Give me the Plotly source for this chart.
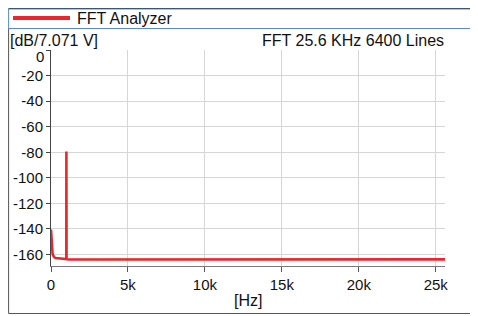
import plotly.graph_objects as go

# ---- data ----
freq_hz = [0, 20, 40, 60, 80, 100, 130, 170, 220, 300, 400, 550, 700, 850, 990,
           996, 1000, 1004, 1010, 1200, 1500, 2000, 2500, 3000, 3500, 4000, 4500,
           5000, 5500, 6000, 6500, 7000, 7500, 8000, 8500, 9000, 9500, 10000,
           10500, 11000, 11500, 12000, 12500, 13000, 13500, 14000, 14500, 15000,
           15500, 16000, 16500, 17000, 17500, 18000, 18500, 19000, 19500, 20000,
           20500, 21000, 21500, 22000, 22500, 23000, 23500, 24000, 24500, 25000,
           25600]
level_db = [-140.5, -146.0, -151.0, -155.0, -157.5, -159.0, -160.5, -161.5, -162.2,
            -162.8, -163.0, -163.2, -163.4, -163.5, -163.6,
            -163.6, -79.5, -163.8, -163.8, -163.9, -163.9, -164.0, -163.9, -164.0,
            -163.9, -164.0, -163.9, -164.0, -163.9, -164.0, -164.0, -163.9, -164.0,
            -163.9, -164.0, -163.9, -164.0, -163.9, -164.0, -163.8, -164.0, -163.7,
            -164.0, -163.8, -164.0, -163.7, -164.0, -163.6, -163.9, -163.7, -164.0,
            -163.6, -163.9, -163.7, -164.0, -163.6, -163.9, -163.7, -163.9, -163.6,
            -164.0, -163.7, -163.9, -163.6, -163.9, -163.7, -163.9, -163.7, -163.8]

x_tick_vals = [0, 5000, 10000, 15000, 20000, 25000]
x_tick_text = ["0", "5k", "10k", "15k", "20k", "25k"]
y_tick_vals = [0, -20, -40, -60, -80, -100, -120, -140, -160]
y_tick_text = ["0", "-20", "-40", "-60", "-80", "-100", "-120", "-140", "-160"]

series_name = "FFT Analyzer"
y_unit = "[dB/7.071 V]"
x_unit = "[Hz]"
info_text = "FFT 25.6 KHz 6400 Lines"

RED = "#e8272e"
FONT = "Liberation Sans, Arial, sans-serif"

# page body adds an 8 px offset; figure is laid out in window pixels minus it
OFF = 8
W, H = 470, 308
# plot area in window pixels: x 51..445, y 50..266
ML, MT = 51 - OFF, 50 - OFF
MR = W - (445 - OFF)
MB = H - (266 - OFF)
PW, PH = W - ML - MR, H - MT - MB


def px(xw):
    return (xw - OFF - ML) / PW


def py(yw):
    return (H - MB - (yw - OFF)) / PH


fig = go.Figure()
fig.add_trace(go.Scatter(x=freq_hz, y=level_db, mode="lines", name=series_name,
                         line=dict(color=RED, width=2.6), showlegend=False))

FL = 8.6   # frame left (window px), first visible column
FT = 8.7   # frame top
shapes = [
    # legend box
    dict(type="rect", xref="paper", yref="paper", x0=px(FL), x1=px(490), y0=py(28.5), y1=py(FT),
         line=dict(color="#5a8cc4", width=1), layer="above"),
    dict(type="line", xref="paper", yref="paper", x0=px(FL), x1=px(490), y0=py(FT), y1=py(FT),
         line=dict(color="#3f5670", width=1.3)),
    # outer frame left & bottom
    dict(type="line", xref="paper", yref="paper", x0=px(FL), x1=px(FL), y0=py(28.5), y1=py(313.5),
         line=dict(color="#555555", width=1)),
    dict(type="line", xref="paper", yref="paper", x0=px(FL), x1=px(490), y0=py(313.5), y1=py(313.5),
         line=dict(color="#555555", width=1)),
    # legend sample
    dict(type="line", xref="paper", yref="paper", x0=px(13), x1=px(70), y0=py(18), y1=py(18),
         line=dict(color=RED, width=4)),
]

annotations = [
    dict(text=series_name, xref="paper", yref="paper", x=px(75), y=py(18.5), xanchor="left",
         yanchor="middle", showarrow=False, font=dict(size=16, color="#111111", family=FONT)),
    dict(text=y_unit, xref="paper", yref="paper", x=px(8), y=py(41), xanchor="left",
         yanchor="middle", showarrow=False, font=dict(size=16, color="#111111", family=FONT)),
    dict(text=info_text, xref="paper", yref="paper", x=px(446), y=py(41), xanchor="right",
         yanchor="middle", showarrow=False, font=dict(size=16, color="#111111", family=FONT)),
    dict(text=y_tick_text[0], xref="paper", yref="paper", x=px(46), y=py(56), xanchor="right",
         yanchor="middle", showarrow=False, font=dict(size=15, color="#111111", family=FONT)),
    dict(text=x_unit, xref="paper", yref="paper", x=px(248), y=py(300), xanchor="center",
         yanchor="middle", showarrow=False, font=dict(size=16, color="#111111", family=FONT)),
]

fig.update_layout(
    width=W, height=H,
    margin=dict(l=ML, r=MR, t=MT, b=MB, pad=0, autoexpand=False),
    paper_bgcolor="white", plot_bgcolor="white",
    font=dict(family=FONT, size=15, color="#111111"),
    shapes=shapes, annotations=annotations,
)
fig.update_xaxes(range=[0, 25600], tickvals=x_tick_vals, ticktext=x_tick_text,
                 automargin=False,
                 showgrid=True, gridcolor="#d6d6d6", gridwidth=1, zeroline=False,
                 showline=True, linecolor="#7a7a7a", linewidth=1,
                 ticks="outside", ticklen=5, tickcolor="#555555",
                 tickfont=dict(size=15, family=FONT, color="#111111"))
fig.update_yaxes(range=[-169, 0], tickvals=y_tick_vals,
                 ticktext=[""] + y_tick_text[1:],
                 automargin=False,
                 showgrid=True, gridcolor="#d6d6d6", gridwidth=1, zeroline=False,
                 showline=True, linecolor="#444444", linewidth=1,
                 ticks="outside", ticklen=4, tickcolor="#444444",
                 tickfont=dict(size=15, family=FONT, color="#111111"))

fig.write_html("out.html")
